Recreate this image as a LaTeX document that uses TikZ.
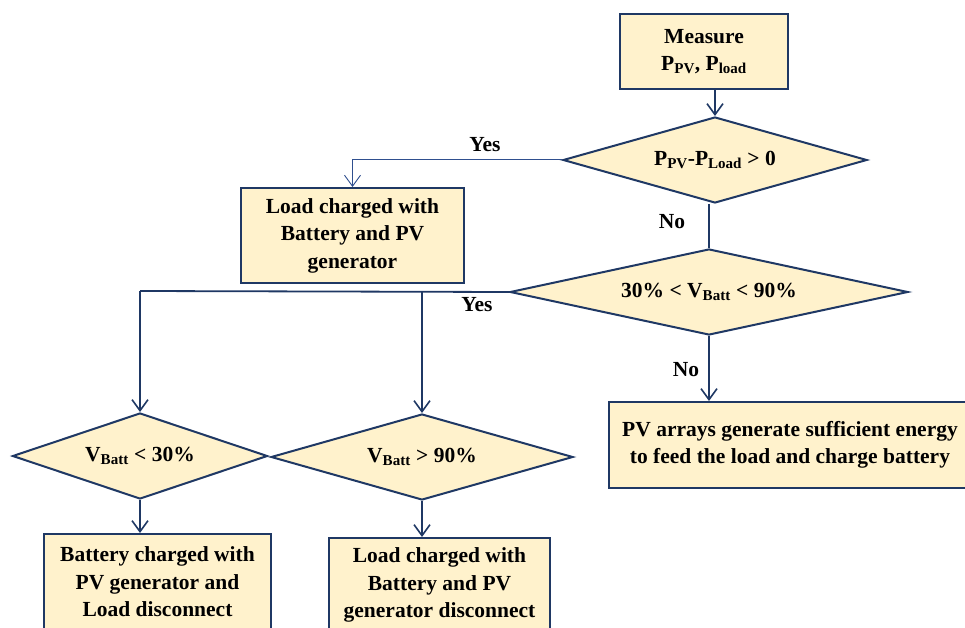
\documentclass[tikz,border=0pt]{standalone}
\usepackage{fontspec}
\setmainfont{Liberation Serif}
\usetikzlibrary{shapes.geometric,arrows.meta}
\definecolor{navy}{HTML}{1F3864}
\definecolor{lnavy}{HTML}{2F4F8F}
\definecolor{beige}{HTML}{FFF2CC}
\newcommand{\sbx}[1]{\textsubscript{#1}}
\begin{document}
\begin{tikzpicture}[x=1pt,y=-1pt,
  every node/.style={font=\fontsize{21.5}{27.5}\selectfont\bfseries, text=black},
  box/.style={draw=navy, line width=2pt, fill=beige, rectangle, inner sep=0pt, align=center},
  dia/.style={draw=navy, line width=2pt, fill=beige, diamond, inner sep=0pt, align=center},
  arr/.style={draw=navy, line width=1.8pt, -{Straight Barb[length=11pt,width=16pt,line width=1.6pt]}},
  ln/.style={draw=navy, line width=1.8pt},
  lbl/.style={inner sep=0pt}]
\useasboundingbox (0,0) rectangle (965,628);
\node[box, minimum width=168pt, minimum height=75pt] (M) at (704,51.5) {Measure\\P\sbx{PV}, P\sbx{load}};
\node[dia, minimum width=304pt, minimum height=86pt, shape aspect=3.53] (D1) at (715,160) {P\sbx{PV}-P\sbx{Load} > 0};
\node[box, minimum width=223pt, minimum height=95pt] (B1) at (352.5,235.5) {Load charged with\\Battery and PV\\generator};
\node[dia, minimum width=398pt, minimum height=86pt, shape aspect=4.63] (D2) at (709,292) {30\% < V\sbx{Batt} < 90\%};
\node[box, minimum width=362pt, minimum height=86pt] (PV) at (790,445) {PV arrays generate sufficient energy\\to feed the load and charge battery};
\node[dia, minimum width=255pt, minimum height=86pt, shape aspect=2.97] (D3) at (140,456) {V\sbx{Batt} < 30\%};
\node[dia, minimum width=302pt, minimum height=86pt, shape aspect=3.51] (D4) at (422,457) {V\sbx{Batt} > 90\%};
\node[box, minimum width=227pt, minimum height=96pt] (B3) at (157.5,582) {Battery charged with\\PV generator and\\Load disconnect};
\node[box, minimum width=221pt, minimum height=94pt] (B4) at (439.5,585) {Load charged with\\Battery and PV\\generator disconnect};
\coordinate (Y2) at (140,291);
\coordinate (Y3) at (422,291);
\draw[arr] (M.south -| D1.north) -- (D1.north);
\draw[arr, draw=lnavy, line width=1pt, -{Straight Barb[length=11pt,width=16pt,line width=0.9pt]}] (D1.west) -| (B1.north);
\draw[ln] (D2.north |- D1.south) -- (D2.north);
\draw[ln] (D2.west) -- (Y2);
\draw[arr] (Y2) -- (D3.north);
\draw[arr] (Y3) -- (D4.north);
\draw[arr] (D2.south) -- (D2.south |- PV.north);
\draw[arr] (D3.south) -- (D3.south |- B3.north);
\draw[arr] (D4.south) -- (D4.south |- B4.north);
\node[lbl] (L1) at (485,145) {Yes};
\node[lbl] (L2) at (672,222) {No};
\node[lbl] (L3) at (477,305) {Yes};
\node[lbl] (L4) at (686,370) {No};
\end{tikzpicture}
\end{document}
